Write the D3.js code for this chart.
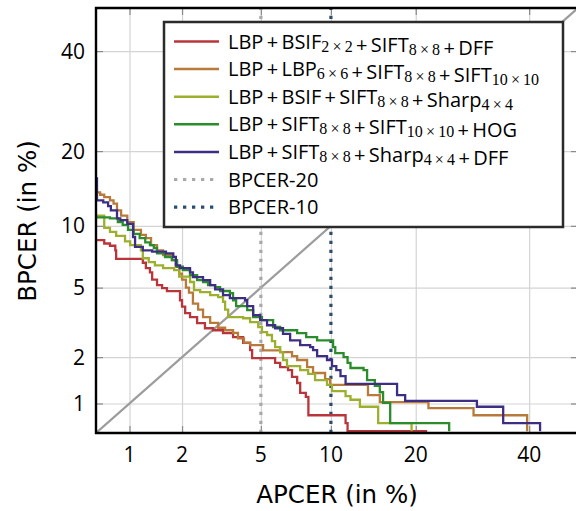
<!DOCTYPE html>
<html>
<head>
<meta charset="utf-8">
<script src="https://cdn.jsdelivr.net/npm/d3@7"></script>
<style>
  body{margin:0;background:#fff;}
  svg{display:block;font-family:"Open Sans",sans-serif;}
</style>
</head>
<body>
<svg id="chart" width="576" height="511"></svg>
<script>
// tick values (in %)
const ticks=[1,2,5,10,20,40];

// legend names, _{..} = subscript
const names=[
  "LBP+BSIF_{2×2}+SIFT_{8×8}+DFF",
  "LBP+LBP_{6×6}+SIFT_{8×8}+SIFT_{10×10}",
  "LBP+BSIF+SIFT_{8×8}+Sharp_{4×4}",
  "LBP+SIFT_{8×8}+SIFT_{10×10}+HOG",
  "LBP+SIFT_{8×8}+Sharp_{4×4}+DFF"
];
const colors=["#b8363b","#b87a3a","#9cb02e","#2b8c2b","#3d2e84"];

// DET curves, [APCER %, BPCER %], step after
const red=[[0.5,8.6],[0.70,8.3],[0.76,8.1],[0.82,7.7],[0.83,7.0],[1.20,6.7],[1.25,6.3],[1.32,6.0],[1.36,5.5],[1.45,5.15],[1.55,4.97],[1.65,4.79],[1.95,4.28],[2.0,3.95],[2.08,3.63],[2.21,3.45],[2.41,3.19],[2.65,2.98],[2.92,2.9],[3.28,2.79],[3.68,2.64],[4.12,2.44],[4.45,2.21],[4.55,1.97],[5.81,1.84],[6.12,1.73],[6.63,1.66],[6.9,1.5],[7.26,1.37],[7.48,1.18],[7.9,1.11],[8.1,0.83],[11.4,0.73],[11.6,0.64],[21.7,0.64]];
const orange=[[0.5,13.9],[0.66,13.6],[0.70,13.3],[0.76,12.9],[0.80,12.5],[0.84,11.7],[0.89,11.1],[0.97,10.4],[1.06,9.6],[1.17,9.1],[1.25,8.8],[1.34,8.15],[1.45,7.7],[1.57,7.3],[1.76,6.9],[1.85,6.4],[1.93,5.9],[2.0,5.5],[2.1,5.0],[2.18,4.7],[2.29,4.1],[2.44,3.8],[2.59,3.45],[2.82,3.2],[3.1,3.0],[3.36,2.9],[3.68,2.8],[3.89,2.6],[4.16,2.45],[4.45,2.37],[5.12,2.2],[6.12,2.15],[6.9,2.03],[7.26,1.92],[8.0,1.73],[8.47,1.59],[9.48,1.45],[9.93,1.33],[13.8,1.14],[15.2,1.02],[21.9,0.93],[29.4,0.83],[39.6,0.64]];
const lightGreen=[[0.5,11.1],[0.70,9.8],[0.76,9.4],[0.83,9.0],[0.94,8.5],[1.01,8.15],[1.17,7.7],[1.20,7.05],[1.30,6.75],[1.41,6.5],[1.57,6.3],[1.81,6.15],[1.93,5.7],[2.21,5.35],[2.32,4.85],[2.5,4.73],[2.82,4.56],[3.1,4.45],[3.28,4.2],[3.36,3.8],[3.48,3.45],[4.12,3.4],[4.45,3.23],[4.86,3.03],[5.06,2.83],[5.34,2.72],[5.62,2.5],[5.81,2.3],[6.12,2.15],[6.3,1.92],[6.56,1.76],[7.48,1.66],[8.08,1.57],[8.63,1.43],[9.65,1.33],[10.1,1.21],[11.4,1.12],[11.9,1.06],[12.9,0.95],[15.0,0.73],[19.4,0.64]];
const green=[[0.5,10.9],[0.76,10.8],[0.85,10.4],[0.91,10.1],[0.98,9.6],[1.06,9.2],[1.15,8.8],[1.24,8.4],[1.32,8.15],[1.39,7.9],[1.45,7.45],[1.61,7.15],[1.76,6.9],[1.88,6.4],[2.02,6.15],[2.21,5.8],[2.41,5.47],[2.59,5.35],[2.75,5.15],[2.99,5.03],[3.17,4.8],[3.55,4.68],[3.68,4.28],[3.81,3.97],[4.31,3.78],[4.6,3.45],[5.06,3.32],[5.69,3.03],[6.12,2.9],[7.26,2.79],[7.93,2.64],[8.8,2.53],[10.2,2.3],[10.4,2.12],[11.2,2.0],[11.6,1.84],[11.9,1.71],[13.3,1.66],[13.7,1.43],[14.6,1.31],[15.2,1.19],[15.6,1.01],[16.5,0.73],[25.2,0.64]];
const purple=[[0.5,15.8],[0.63,12.9],[0.69,12.65],[0.74,12.2],[0.77,11.7],[0.84,10.8],[0.88,10.6],[0.97,10.2],[1.05,8.9],[1.08,8.0],[1.20,7.7],[1.36,7.6],[1.63,7.45],[1.79,7.15],[1.85,6.5],[1.95,6.3],[2.21,6.0],[2.29,5.67],[2.59,5.47],[2.82,5.15],[2.99,4.9],[3.28,4.56],[3.55,4.4],[4.21,4.28],[4.31,3.97],[4.6,3.54],[4.96,3.32],[5.34,3.1],[5.81,2.98],[6.3,2.76],[6.77,2.53],[7.48,2.37],[8.24,2.3],[8.47,2.21],[8.8,2.03],[9.65,1.92],[10.1,1.76],[10.5,1.66],[10.9,1.52],[11.4,1.35],[17.4,1.14],[18.5,1.04],[30.0,0.95],[34.9,0.73],[42.2,0.64]];
const series=[red,orange,lightGreen,green,purple];

// operating points: BPCER-20 at APCER 5 %, BPCER-10 at APCER 10 %
const refLines=[{name:"BPCER-20",apcer:5,color:"#a9a9a9"},{name:"BPCER-10",apcer:10,color:"#2c4e6e"}];

// inverse normal cdf (Acklam)
function probit(p){
  const a=[-39.69683028665376,220.9460984245205,-275.9285104469687,138.3577518672690,-30.66479806614716,2.506628277459239];
  const b=[-54.47609879822406,161.5858368580409,-155.6989798598866,66.80131188771972,-13.28068155288572];
  const c=[-0.007784894002430293,-0.3223964580411365,-2.400758277161838,-2.549732539343734,4.374664141464968,2.938163982698783];
  const d=[0.007784695709041462,0.3224671290700398,2.445134137142996,3.754408661907416];
  const pl=0.02425;
  if(p<pl){const q=Math.sqrt(-2*Math.log(p));
    return (((((c[0]*q+c[1])*q+c[2])*q+c[3])*q+c[4])*q+c[5])/((((d[0]*q+d[1])*q+d[2])*q+d[3])*q+1);}
  if(p>1-pl){const q=Math.sqrt(-2*Math.log(1-p));
    return -(((((c[0]*q+c[1])*q+c[2])*q+c[3])*q+c[4])*q+c[5])/((((d[0]*q+d[1])*q+d[2])*q+d[3])*q+1);}
  const q=p-0.5,r=q*q;
  return (((((a[0]*r+a[1])*r+a[2])*r+a[3])*r+a[4])*r+a[5])*q/(((((b[0]*r+b[1])*r+b[2])*r+b[3])*r+b[4])*r+1);
}
const pz=v=>probit(v/100);

const svg=d3.select("#chart");
const L=96,T=8,R=578,B=433;
const lo=0.621,hi=50;
const x=d3.scaleLinear().domain([pz(lo),pz(hi)]).range([L,R]);
const y=d3.scaleLinear().domain([pz(lo),pz(hi)]).range([B,T]);
const X=v=>x(pz(v)),Y=v=>y(pz(v));
const tz=ticks.map(pz);

svg.append("defs").append("clipPath").attr("id","clip")
  .append("rect").attr("x",L).attr("y",T).attr("width",R-L).attr("height",B-T);

// grid
svg.append("g").attr("transform",`translate(0,${B})`)
  .call(d3.axisBottom(x).tickValues(tz).tickSize(-(B-T)).tickFormat(""))
  .call(g=>g.select(".domain").remove())
  .call(g=>g.selectAll("line").attr("stroke","#d4d4d4").attr("stroke-width",1.2));
svg.append("g").attr("transform",`translate(${L},0)`)
  .call(d3.axisLeft(y).tickValues(tz).tickSize(-(R-L)).tickFormat(""))
  .call(g=>g.select(".domain").remove())
  .call(g=>g.selectAll("line").attr("stroke","#d4d4d4").attr("stroke-width",1.2));

// inner tick marks on all sides
const tk=7;
[[d3.axisBottom(x),`translate(0,${B})`],[d3.axisTop(x),`translate(0,${T})`],
 [d3.axisLeft(y),`translate(${L},0)`],[d3.axisRight(y),`translate(${R},0)`]]
 .forEach(([ax,tr])=>{
   svg.append("g").attr("transform",tr)
     .call(ax.tickValues(tz).tickSize(-tk).tickFormat(""))
     .call(g=>g.select(".domain").remove())
     .call(g=>g.selectAll("line").attr("stroke","#8a8a8a").attr("stroke-width",1.2));
 });

const plot=svg.append("g").attr("clip-path","url(#clip)");

// diagonal APCER = BPCER
plot.append("line")
  .attr("x1",X(lo)).attr("y1",Y(lo)).attr("x2",X(hi)).attr("y2",Y(hi))
  .attr("stroke","#9c9c9c").attr("stroke-width",2.2);

// BPCER-20 / BPCER-10 lines
plot.selectAll(".ref").data(refLines).join("line")
  .attr("x1",d=>X(d.apcer)).attr("x2",d=>X(d.apcer))
  .attr("y1",B).attr("y2",T)
  .attr("stroke",d=>d.color).attr("stroke-width",3.2)
  .attr("stroke-dasharray","3.3,5.7");

// DET curves
const line=d3.line().x(d=>X(d[0])).y(d=>Y(d[1])).curve(d3.curveStepAfter);
plot.selectAll(".det").data(series).join("path")
  .attr("fill","none")
  .attr("stroke",(d,i)=>colors[i])
  .attr("stroke-width",2.3)
  .attr("d",line);

// frame
svg.append("path")
  .attr("d",`M${R},${T}H${L}V${B}H${R}`)
  .attr("fill","none").attr("stroke","#000").attr("stroke-width",2.4);

// tick labels
svg.append("g").selectAll("text").data(ticks).join("text")
  .attr("x",d=>X(d)).attr("y",462)
  .attr("text-anchor","middle").attr("font-size",21).text(d=>d);
svg.append("g").selectAll("text").data(ticks).join("text")
  .attr("x",85).attr("y",d=>Y(d)+7.5)
  .attr("text-anchor","end").attr("font-size",21).text(d=>d);

// axis titles
svg.append("text").attr("x",337).attr("y",503).attr("text-anchor","middle")
  .attr("font-family","'DejaVu Sans',sans-serif").attr("font-size",24.5).text("APCER (in %)");
svg.append("text").attr("transform","translate(36,221) rotate(-90)")
  .attr("text-anchor","middle")
  .attr("font-family","'DejaVu Sans',sans-serif").attr("font-size",24.5).text("BPCER (in %)");

// legend
const lg=svg.append("g");
lg.append("rect").attr("x",164).attr("y",22).attr("width",399).attr("height",205)
  .attr("fill","#fff").attr("stroke","#2b2b2b").attr("stroke-width",2.5);
const items=names.map((n,i)=>({n,color:colors[i],dash:null}))
  .concat(refLines.map(r=>({n:r.name,color:r.color,dash:"3.3,5.7"})));
const rows=lg.selectAll(".item").data(items).join("g")
  .attr("transform",(d,i)=>`translate(0,${41.5+i*27.6})`);
rows.append("line").attr("x1",174).attr("x2",219)
  .attr("stroke",d=>d.color).attr("stroke-width",d=>d.dash?3.2:2.5)
  .attr("stroke-dasharray",d=>d.dash);
rows.append("text").attr("x",228).attr("y",7).attr("font-size",20)
  .each(function(d){
    const t=d3.select(this);
    d.n.split(/(_\{[^}]*\})/).filter(s=>s).forEach(s=>{
      if(s.startsWith("_{")){
        t.append("tspan").attr("dy",3).attr("font-size",16)
          .attr("font-family","'Liberation Serif',serif")
          .text(s.slice(2,-1).replace("×","\u2009×\u2009"));
        t.append("tspan").attr("dy",-3).text("");
      }else t.append("tspan").text(s.replace(/\+/g,"\u2009+\u2009"));
    });
  });
</script>
</body>
</html>
